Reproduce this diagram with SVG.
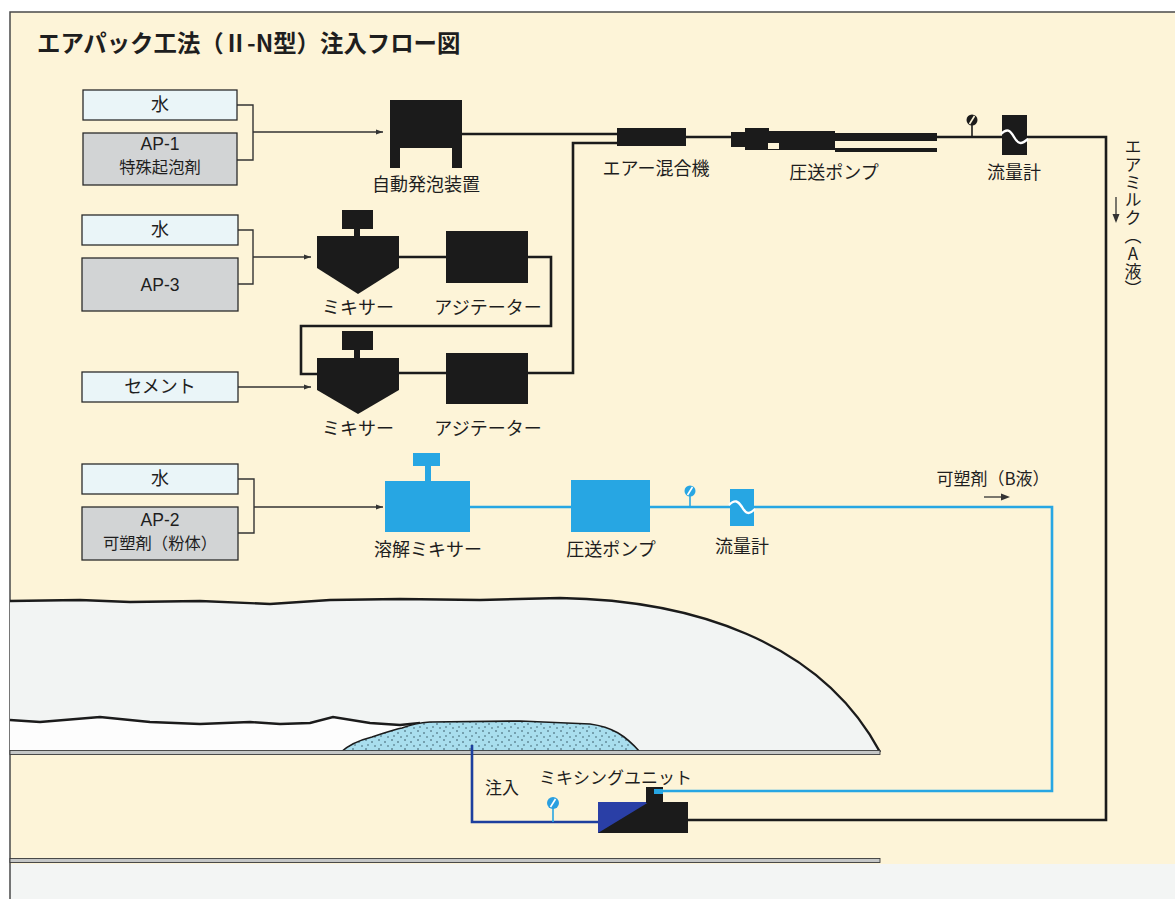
<svg xmlns="http://www.w3.org/2000/svg" width="1175" height="899" viewBox="0 0 1175 899">
  <style>
    text { font-family: "Noto Sans CJK JP", "Noto Sans", sans-serif; fill: #1e1e1e; }
    .title { font-size: 23.4px; font-weight: bold; }
    .lbl { font-size: 18px; text-anchor: middle; }
    .lat { font-family: "Liberation Sans", Arial, sans-serif; font-size: 17.5px; }
    .sub { font-size: 16.3px; }
    .vert { font-size: 17px; letter-spacing: 0.8px; writing-mode: vertical-rl; text-orientation: upright; }
    .box-lt { fill: #eaf5f8; stroke: #2b2b2b; stroke-width: 1.3; }
    .box-gy { fill: #d2d4d5; stroke: #2b2b2b; stroke-width: 1.3; }
    .blk { fill: #1b1b1b; }
    .blu { fill: #27a6e3; }
    .pipe { fill: none; stroke: #1b1b1b; stroke-width: 2.6; }
    .pipe-b { fill: none; stroke: #27a6e3; stroke-width: 2.6; }
    .pipe-d { fill: none; stroke: #1d3f9e; stroke-width: 2.6; }
    .feed { fill: none; stroke: #333; stroke-width: 1.4; }
    .wave { fill: none; stroke: #ffffff; stroke-width: 2.4; }
    .floor { fill: #c4c6c6; stroke: #3a3a3a; stroke-width: 0.9; }
    .ground { stroke: #1b1b1b; stroke-width: 2.4; }
  </style>
  <defs>
    <marker id="arr" viewBox="0 0 10 10" refX="10" refY="5" markerWidth="7" markerHeight="7" markerUnits="userSpaceOnUse" orient="auto">
      <path d="M0,1.5 L10,5 L0,8.5 Z" fill="#333"/>
    </marker>
    <pattern id="dots" width="13" height="9" patternUnits="userSpaceOnUse">
      <rect width="13" height="9" fill="#a9deee"/>
      <circle cx="2" cy="2" r="0.75" fill="#24424e"/>
      <circle cx="8" cy="4" r="0.75" fill="#24424e"/>
      <circle cx="11" cy="8" r="0.7" fill="#24424e"/>
      <circle cx="4" cy="7" r="0.7" fill="#24424e"/>
    </pattern>
  </defs>

  <!-- page -->
  <rect x="0" y="0" width="1175" height="899" fill="#ffffff"/>
  <rect x="10" y="12" width="1165" height="887" fill="#fdf4d8"/>
  <rect x="10" y="864" width="1165" height="35" fill="#f3f5f4"/>
  <path d="M10,899 V12 H1175" fill="none" stroke="#4a4a4a" stroke-width="1.5"/>

  <text class="title" x="37" y="52">エアパック工法（Ⅱ-N型）注入フロー図</text>

  <!-- ground section -->
  <g id="ground">
    <path d="M10,601 L80,600 L130,602 L200,601 L270,604 L330,600 L400,599 L480,600 L560,598 C690,600 820,640 880,752 L10,752 Z" fill="#f2f4f3"/>
    <path d="M10,601 L80,600 L130,602 L200,601 L270,604 L330,600 L400,599 L480,600 L560,598 C690,600 820,640 880,752" fill="none" class="ground"/>
    <path d="M10,720 L40,722 L100,717 L150,722 L200,724 L250,722 L280,724 L310,723 L333,717 L370,723 L400,725 L430,723 L430,752 L10,752 Z" fill="#fdfdfd"/>
    <path d="M10,720 L40,722 L100,717 L150,722 L200,724 L250,722 L280,724 L310,723 L333,717 L370,723 L400,725 L420,723" fill="none" class="ground"/>
    <path d="M341,752 C350,744 360,740 372,737 C385,733 392,730 402,728 C410,725 418,723 430,722 L520,721 L590,724 C612,727 625,735 640,752 Z" fill="url(#dots)"/>
    <path d="M341,752 C350,744 360,740 372,737 C385,733 392,730 402,728 C410,725 418,723 430,722 L520,721 L590,724 C612,727 625,735 640,752" fill="none" stroke="#1b1b1b" stroke-width="1.6"/>
    <rect class="floor" x="10" y="750.5" width="870" height="4"/>
    <rect class="floor" x="10" y="858.5" width="870" height="4"/>
  </g>

  <!-- connectors -->
  <g id="connectors">
    <path class="feed" d="M237,105 H253 V160 H237"/>
    <path class="feed" d="M253,132 H383" marker-end="url(#arr)"/>
    <path class="feed" d="M238,230 H253 V284 H238"/>
    <path class="feed" d="M253,257 H311" marker-end="url(#arr)"/>
    <path class="feed" d="M238,387 H311" marker-end="url(#arr)"/>
    <path class="feed" d="M238,479 H254 V533 H238"/>
    <path class="feed" d="M254,507 H383" marker-end="url(#arr)"/>

    <path class="pipe" d="M462,134 H617"/>
    <path class="pipe" d="M686,137 H731"/>
    <path class="pipe" d="M937,137 H1002"/>
    <path class="pipe" d="M1027,137 H1106 V820 H688"/>
    <path class="pipe" d="M399,257 H446"/>
    <path class="pipe" d="M528,257 H551 V326 H301 V374 H317"/>
    <path class="pipe" d="M399,373 H446"/>
    <path class="pipe" d="M528,373 H573 V143 H617"/>

    <path class="pipe-b" d="M470,507 H571"/>
    <path class="pipe-b" d="M650,507 H730"/>
    <path class="pipe-b" d="M754,507 H1052 V791 H660"/>
    <path class="pipe-d" d="M472,745 V822 H598"/>

    <path d="M1116,197 V221" stroke="#333" stroke-width="1.3"/>
    <path d="M1112.5,214 L1116,223 L1119.5,214 Z" fill="#333"/>
    <path d="M984,497 H1006" stroke="#333" stroke-width="1.3"/>
    <path d="M1001,493.5 L1010,497 L1001,500.5 Z" fill="#333"/>
  </g>

  <!-- raw materials -->
  <g id="water1">
    <rect class="box-lt" x="83" y="90" width="154" height="30"/>
    <text class="lbl" x="160" y="111">水</text>
  </g>
  <g id="ap1">
    <rect class="box-gy" x="83" y="133" width="154" height="52"/>
    <text class="lbl lat" x="160" y="150">AP-1</text>
    <text class="lbl sub" x="160" y="172.5">特殊起泡剤</text>
  </g>
  <g id="water2">
    <rect class="box-lt" x="82" y="215" width="156" height="30"/>
    <text class="lbl" x="160" y="236">水</text>
  </g>
  <g id="ap3">
    <rect class="box-gy" x="82" y="258" width="156" height="53"/>
    <text class="lbl lat" x="160" y="291">AP-3</text>
  </g>
  <g id="cement">
    <rect class="box-lt" x="82" y="372" width="156" height="30"/>
    <text class="lbl" x="160" y="393">セメント</text>
  </g>
  <g id="water3">
    <rect class="box-lt" x="82" y="464" width="156" height="30"/>
    <text class="lbl" x="160" y="485">水</text>
  </g>
  <g id="ap2">
    <rect class="box-gy" x="82" y="507" width="156" height="53"/>
    <text class="lbl lat" x="160" y="526">AP-2</text>
    <text class="lbl sub" x="160" y="548.5">可塑剤（粉体）</text>
  </g>

  <!-- foam line -->
  <g id="foam-generator">
    <path class="blk" d="M390,100 H462 V168 H452 V148 H400 V168 H390 Z"/>
    <text class="lbl" x="426" y="191">自動発泡装置</text>
  </g>
  <g id="air-mixer">
    <rect class="blk" x="617" y="128" width="69" height="18"/>
    <text class="lbl" x="656" y="175">エアー混合機</text>
  </g>
  <g id="pump-a">
    <rect class="blk" x="731" y="132" width="15" height="15"/>
    <rect class="blk" x="745" y="128" width="24" height="22"/>
    <rect class="blk" x="768" y="131" width="67" height="19"/>
    <rect x="768" y="143" width="11" height="6" fill="#fdf4d8"/>
    <rect class="blk" x="835" y="133" width="102" height="8"/>
    <rect class="blk" x="835" y="148" width="102" height="4"/>
    <text class="lbl" x="834" y="179">圧送ポンプ</text>
  </g>
  <g id="gauge-a">
    <path d="M972,125 V137" stroke="#1b1b1b" stroke-width="1.6"/>
    <circle class="blk" cx="972" cy="120" r="5.5"/>
    <path d="M969.5,124 L974.5,116" stroke="#fdf4d8" stroke-width="1.6"/>
  </g>
  <g id="flowmeter-a">
    <rect class="blk" x="1002" y="115" width="25" height="40"/>
    <path class="wave" d="M1001,134 C1007,128 1010,130 1014,137 C1018,144 1021,145 1028,139"/>
    <text class="lbl" x="1014" y="179">流量計</text>
  </g>
  <g id="label-a">
    <text class="vert" x="1133" y="138">エアミルク（A液）</text>
  </g>

  <!-- cement line -->
  <g id="mixer-1">
    <rect class="blk" x="342" y="210" width="31" height="19"/>
    <rect class="blk" x="354" y="228" width="6" height="9"/>
    <path class="blk" d="M317,236 H399 V268 L358,294 L317,268 Z"/>
    <text class="lbl" x="358" y="314">ミキサー</text>
  </g>
  <g id="agitator-1">
    <rect class="blk" x="446" y="231" width="82" height="52"/>
    <text class="lbl" x="488" y="314">アジテーター</text>
  </g>
  <g id="mixer-2">
    <rect class="blk" x="342" y="331" width="31" height="19"/>
    <rect class="blk" x="354" y="349" width="6" height="10"/>
    <path class="blk" d="M317,358 H399 V390 L358,414 L317,390 Z"/>
    <text class="lbl" x="358" y="435">ミキサー</text>
  </g>
  <g id="agitator-2">
    <rect class="blk" x="446" y="353" width="82" height="51"/>
    <text class="lbl" x="488" y="435">アジテーター</text>
  </g>

  <!-- plasticizer line -->
  <g id="dissolving-mixer">
    <rect class="blu" x="413" y="453" width="27" height="13"/>
    <rect class="blu" x="425" y="465" width="6" height="17"/>
    <rect class="blu" x="385" y="481" width="85" height="51"/>
    <text class="lbl" x="428" y="556">溶解ミキサー</text>
  </g>
  <g id="pump-b">
    <rect class="blu" x="571" y="480" width="79" height="52"/>
    <text class="lbl" x="611" y="556">圧送ポンプ</text>
  </g>
  <g id="gauge-b">
    <path d="M690,496 V507" stroke="#27a6e3" stroke-width="1.6"/>
    <circle class="blu" cx="690" cy="491" r="5.5"/>
    <path d="M687.5,495 L692.5,487" stroke="#ffffff" stroke-width="1.6"/>
  </g>
  <g id="flowmeter-b">
    <rect class="blu" x="730" y="489" width="24" height="37"/>
    <path class="wave" d="M729,505 C735,499 738,501 742,507 C746,514 749,515 755,509"/>
    <text class="lbl" x="742" y="553">流量計</text>
  </g>
  <g id="label-b">
    <text class="lbl" x="993" y="485" style="font-size:17px">可塑剤（B液）</text>
  </g>

  <!-- injection -->
  <g id="mixing-unit">
    <rect class="blk" x="598" y="802" width="90" height="31"/>
    <path d="M598,802 H649 L598,833 Z" fill="#2a3fa6"/>
    <rect class="blk" x="646" y="787" width="17" height="16"/>
    <rect x="654" y="789" width="9" height="5" fill="#27a6e3"/>
    <text x="539" y="784" style="font-size:17px">ミキシングユニット</text>
  </g>
  <g id="gauge-c">
    <path d="M553,808 V822" stroke="#27a6e3" stroke-width="1.6"/>
    <circle cx="553" cy="803" r="6" fill="#2a9fe0"/>
    <path d="M550.5,807 L555.5,799" stroke="#ffffff" stroke-width="1.6"/>
  </g>
  <g id="injection-label">
    <text x="485" y="794" style="font-size:17px">注入</text>
  </g>
</svg>
